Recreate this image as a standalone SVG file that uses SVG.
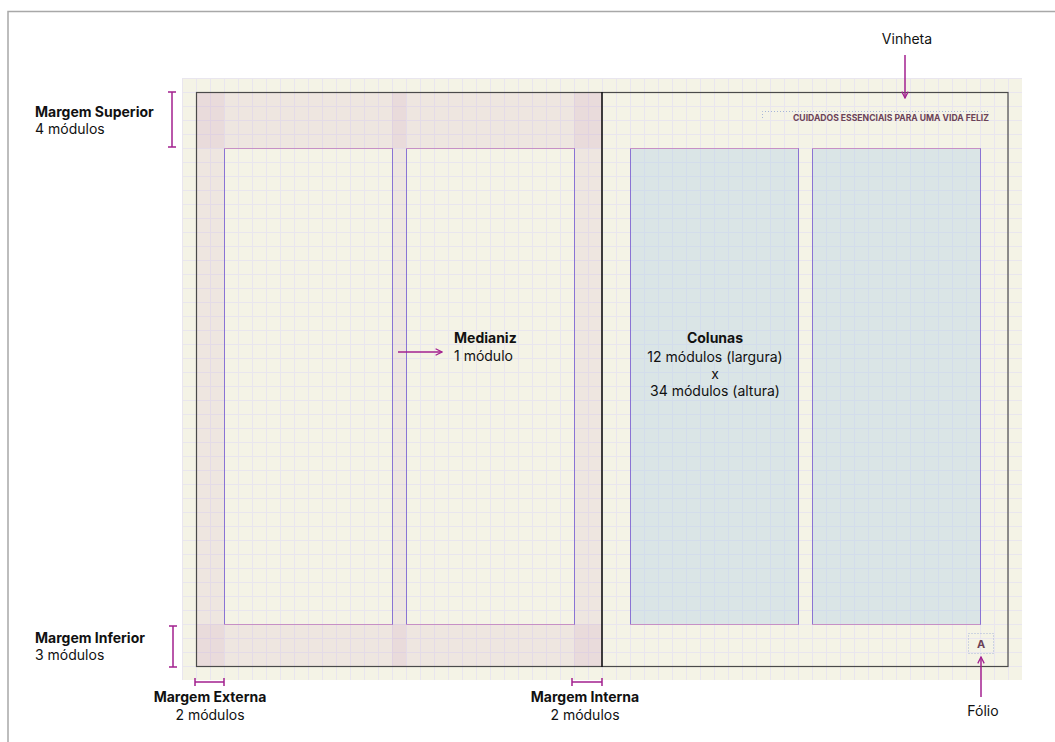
<svg xmlns="http://www.w3.org/2000/svg" width="1055" height="742" viewBox="0 0 1055 742">
  <defs>
    <pattern id="grid" x="182" y="78" width="14" height="14" patternUnits="userSpaceOnUse">
      <path d="M0.5 0 V14 M0 0.5 H14" stroke="#e9e6ee" stroke-width="1" fill="none"/>
    </pattern>
    <marker id="arr" viewBox="0 0 10 10" refX="9" refY="5" markerWidth="8" markerHeight="8" orient="auto" markerUnits="userSpaceOnUse">
      <path d="M1 1 L9 5 L1 9" fill="none" stroke="#a3218f" stroke-width="1.6"/>
    </marker>
    <style>
      .lbl { font-family: Inter, "Liberation Sans", sans-serif; font-size: 14px; fill: #111; }
      .b { font-weight: 700; }
      .mid { text-anchor: middle; }
      .shade { fill: rgb(205,165,195); fill-opacity: 0.17; }
      .col { stroke: #8a74d4; stroke-width: 1; }
      .colh { stroke: #c690c6; stroke-width: 1; }
      .mag { stroke: #a3218f; stroke-width: 1.5; fill: none; }
      .dot { stroke: #a7b5d8; stroke-width: 1; stroke-dasharray: 1 2; fill: none; }
    </style>
  </defs>

  <rect x="0" y="0" width="1055" height="742" fill="#ffffff"/>
  <rect x="8" y="11.5" width="1100" height="800" fill="none" stroke="#a8a8a8" stroke-width="1.5"/>

  <g id="page">
    <rect x="182" y="78" width="840" height="602" fill="#f4f3e6"/>
    <rect x="182" y="78" width="840" height="602" fill="url(#grid)"/>
  </g>

  <g id="margins-left">
    <rect class="shade" x="196" y="92" width="406" height="56"/>
    <rect class="shade" x="196" y="624" width="406" height="42"/>
    <rect class="shade" x="196" y="92" width="28" height="574"/>
    <rect class="shade" x="392" y="92" width="14" height="574"/>
    <rect class="shade" x="574" y="92" width="28" height="574"/>
  </g>

  <g id="columns-left">
    <rect x="224.5" y="148.5" width="168" height="476" fill="none" class="col"/>
    <rect x="406.5" y="148.5" width="168" height="476" fill="none" class="col"/>
    <path class="colh" d="M224 148.5 H392.5 M406 148.5 H574.5 M224 624.5 H392.5 M406 624.5 H574.5"/>
  </g>

  <g id="columns-right">
    <rect x="630.5" y="148.5" width="168" height="476" fill="rgb(180,210,230)" fill-opacity="0.42" class="col"/>
    <rect x="812.5" y="148.5" width="168" height="476" fill="rgb(180,210,230)" fill-opacity="0.42" class="col"/>
    <path class="colh" d="M630 148.5 H798.5 M812 148.5 H980.5 M630 624.5 H798.5 M812 624.5 H980.5"/>
  </g>

  <g id="spread-frame">
    <rect x="196.5" y="92.5" width="811.5" height="574" fill="none" stroke="#4a4a4a" stroke-width="1.2"/>
    <line x1="602" y1="92" x2="602" y2="667" stroke="#111" stroke-width="1.6"/>
  </g>

  <g id="vinheta">
    <path class="dot" d="M762.5 118 V111.5 H989"/>
    <text x="989" y="120.5" text-anchor="end" textLength="196" lengthAdjust="spacingAndGlyphs" font-family="Inter, 'Liberation Sans', sans-serif" font-size="9" font-weight="700" fill="#6b4257">CUIDADOS ESSENCIAIS PARA UMA VIDA FELIZ</text>
  </g>

  <g id="folio">
    <rect class="dot" x="968.5" y="633.5" width="25" height="20"/>
    <text x="981" y="648" text-anchor="middle" font-family="Inter, 'Liberation Sans', sans-serif" font-size="11" font-weight="700" fill="#6b4257">A</text>
  </g>

  <g id="connectors">
    <path class="mag" d="M168 92 H176 M172 92 V147 M168 147 H176"/>
    <path class="mag" d="M169 626 H177 M173 626 V667 M169 667 H177"/>
    <path class="mag" d="M195 678 V686 M195 682 H224 M224 678 V686"/>
    <path class="mag" d="M572 678 V686 M572 682 H602 M602 678 V686"/>
    <line class="mag" x1="905" y1="55" x2="905" y2="98" marker-end="url(#arr)"/>
    <line class="mag" x1="981" y1="697" x2="981" y2="657" marker-end="url(#arr)"/>
    <line class="mag" x1="398" y1="352" x2="442" y2="352" marker-end="url(#arr)"/>
  </g>

  <g id="label-superior">
    <text class="lbl b" x="35" y="117">Margem Superior</text>
    <text class="lbl" x="35" y="134">4 módulos</text>
  </g>
  <g id="label-inferior">
    <text class="lbl b" x="35" y="643">Margem Inferior</text>
    <text class="lbl" x="35" y="660">3 módulos</text>
  </g>
  <g id="label-externa">
    <text class="lbl b mid" x="210" y="702">Margem Externa</text>
    <text class="lbl mid" x="210" y="720">2 módulos</text>
  </g>
  <g id="label-interna">
    <text class="lbl b mid" x="585" y="702">Margem Interna</text>
    <text class="lbl mid" x="585" y="720">2 módulos</text>
  </g>
  <g id="label-medianiz">
    <text class="lbl b" x="454" y="343">Medianiz</text>
    <text class="lbl" x="454" y="361">1 módulo</text>
  </g>
  <g id="label-colunas">
    <text class="lbl b mid" x="715" y="343">Colunas</text>
    <text class="lbl mid" x="715" y="362">12 módulos (largura)</text>
    <text class="lbl mid" x="715" y="379">x</text>
    <text class="lbl mid" x="715" y="396">34 módulos (altura)</text>
  </g>
  <g id="label-vinheta">
    <text class="lbl mid" x="907" y="44">Vinheta</text>
  </g>
  <g id="label-folio">
    <text class="lbl mid" x="983" y="716">Fólio</text>
  </g>
</svg>
